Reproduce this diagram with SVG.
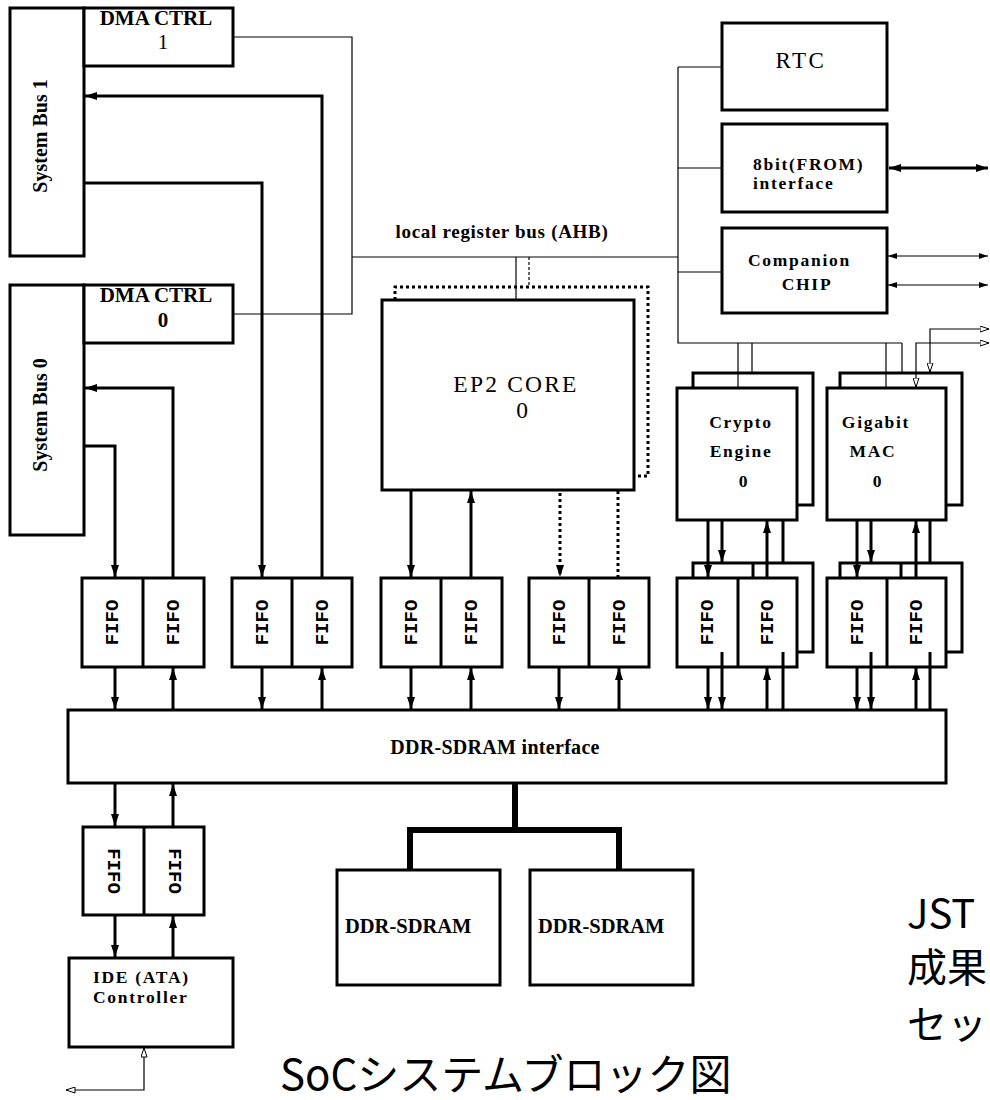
<svg xmlns="http://www.w3.org/2000/svg" width="990" height="1100" viewBox="0 0 990 1100">
<style>
.box{fill:#fff;stroke:#000;stroke-width:3}
.thin{fill:none;stroke:#000;stroke-width:1.2}
.thick{fill:none;stroke:#000;stroke-width:3}
.bus{fill:none;stroke:#000;stroke-width:6}
.dot{fill:none;stroke:#000;stroke-width:3;stroke-dasharray:3 3}
.dash{fill:none;stroke:#000;stroke-width:1.2;stroke-dasharray:3 2}
.arr{marker-end:url(#ah)}
.b{font-family:"Liberation Serif",serif;font-weight:bold;fill:#000}
.r{font-family:"Liberation Serif",serif;fill:#000}
.s{font-size:17.5px;letter-spacing:1.7px}
.m{font-size:20.5px}
.fifo{font-family:"Liberation Mono",monospace;font-weight:bold;font-size:19px;text-anchor:middle}
.jp{font-family:"Noto Sans CJK JP",sans-serif;font-size:40px;fill:#000}
</style>
<defs>
<marker id="ah" viewBox="0 0 12 8" markerWidth="12" markerHeight="8" refX="12" refY="4" orient="auto" markerUnits="userSpaceOnUse"><path d="M0,0 L12,4 L0,8 z" fill="#000"/></marker>
<marker id="as" viewBox="0 0 9 6" markerWidth="9" markerHeight="6" refX="9" refY="3" orient="auto-start-reverse" markerUnits="userSpaceOnUse"><path d="M0,0 L9,3 L0,6 z" fill="#000"/></marker>
<marker id="ab" viewBox="0 0 12 8" markerWidth="12" markerHeight="8" refX="12" refY="4" orient="auto-start-reverse" markerUnits="userSpaceOnUse"><path d="M0,0 L12,4 L0,8 z" fill="#000"/></marker>
<marker id="ao" viewBox="0 0 10 7" markerWidth="10" markerHeight="7" refX="9.5" refY="3.5" orient="auto-start-reverse" markerUnits="userSpaceOnUse"><path d="M0.5,0.5 L9.5,3.5 L0.5,6.5 z" fill="#fff" stroke="#000" stroke-width="1"/></marker>
</defs>

<g id="sysbus1"><rect class="box" x="10" y="8" width="74" height="248"/><text class="b" style="font-size:20px" text-anchor="middle" transform="translate(47,136) rotate(-90)">System Bus 1</text></g>
<g id="dma1"><rect class="box" x="84" y="8" width="149" height="58"/><text class="b" style="font-size:21px" x="156" y="25" text-anchor="middle">DMA CTRL</text><text class="r" style="font-size:21px" x="163" y="49" text-anchor="middle">1</text></g>
<g id="sysbus0"><rect class="box" x="10" y="285" width="74" height="250"/><text class="b" style="font-size:20px" text-anchor="middle" transform="translate(47,415) rotate(-90)">System Bus 0</text></g>
<g id="dma0"><rect class="box" x="84" y="285" width="149" height="58"/><text class="b" style="font-size:21px" x="156" y="302" text-anchor="middle">DMA CTRL</text><text class="b" style="font-size:21px" x="163" y="327" text-anchor="middle">0</text></g>

<g id="rtc"><rect class="box" x="722" y="23" width="165" height="87"/><text class="r" style="font-size:23px;letter-spacing:2.5px" x="801" y="68" text-anchor="middle">RTC</text></g>
<g id="from8bit"><rect class="box" x="722" y="124" width="165" height="88"/><text class="b s" x="753" y="170">8bit(FROM)</text><text class="b s" x="753" y="189">interface</text></g>
<g id="companion"><rect class="box" x="722" y="228" width="165" height="85"/><text class="b s" x="748" y="266">Companion</text><text class="b s" x="807" y="290" text-anchor="middle">CHIP</text></g>

<g id="ep2core"><rect class="box" x="382" y="300" width="252" height="190"/><text class="r" style="font-size:23.5px;letter-spacing:2.2px" x="516" y="392" text-anchor="middle">EP2 CORE</text><text class="r" style="font-size:23.5px" x="522" y="418" text-anchor="middle">0</text></g>

<g id="crypto"><rect class="box" x="693" y="373" width="120" height="132"/><rect class="box" x="677" y="388" width="120" height="132"/><text class="b s" x="741" y="428" text-anchor="middle">Crypto</text><text class="b s" x="741" y="457" text-anchor="middle">Engine</text><text class="b s" x="744" y="487" text-anchor="middle">0</text></g>
<g id="gmac"><rect class="box" x="840" y="373" width="122" height="132"/><rect class="box" x="827" y="388" width="119" height="132"/><text class="b s" x="876" y="428" text-anchor="middle">Gigabit</text><text class="b s" x="873" y="457" text-anchor="middle">MAC</text><text class="b s" x="878" y="487" text-anchor="middle">0</text></g>

<g id="fifo1"><rect class="box" x="82" y="578" width="122" height="89"/><line class="thick" x1="143" y1="578" x2="143" y2="667"/><text class="fifo" transform="translate(118,622.5) rotate(-90)">FIFO</text><text class="fifo" transform="translate(179,622.5) rotate(-90)">FIFO</text></g>
<g id="fifo2"><rect class="box" x="232" y="578" width="120" height="89"/><line class="thick" x1="292" y1="578" x2="292" y2="667"/><text class="fifo" transform="translate(267.5,622.5) rotate(-90)">FIFO</text><text class="fifo" transform="translate(327.5,622.5) rotate(-90)">FIFO</text></g>
<g id="fifo3"><rect class="box" x="381" y="578" width="121" height="89"/><line class="thick" x1="441" y1="578" x2="441" y2="667"/><text class="fifo" transform="translate(416.5,622.5) rotate(-90)">FIFO</text><text class="fifo" transform="translate(477,622.5) rotate(-90)">FIFO</text></g>
<g id="fifo4"><rect class="box" x="529" y="578" width="120" height="89"/><line class="thick" x1="589" y1="578" x2="589" y2="667"/><text class="fifo" transform="translate(564.5,622.5) rotate(-90)">FIFO</text><text class="fifo" transform="translate(624.5,622.5) rotate(-90)">FIFO</text></g>
<g id="fifo5"><rect class="box" x="693" y="563" width="120" height="89"/><line class="thick" x1="753" y1="563" x2="753" y2="652"/><rect class="box" x="677" y="578" width="120" height="89"/><line class="thick" x1="738" y1="578" x2="738" y2="667"/><text class="fifo" transform="translate(713,622.5) rotate(-90)">FIFO</text><text class="fifo" transform="translate(773,622.5) rotate(-90)">FIFO</text></g>
<g id="fifo6"><rect class="box" x="840" y="563" width="122" height="89"/><line class="thick" x1="901" y1="563" x2="901" y2="652"/><rect class="box" x="827" y="578" width="119" height="89"/><line class="thick" x1="887" y1="578" x2="887" y2="667"/><text class="fifo" transform="translate(862.5,622.5) rotate(-90)">FIFO</text><text class="fifo" transform="translate(922,622.5) rotate(-90)">FIFO</text></g>

<g id="ddrif"><rect class="box" x="68" y="710" width="878" height="73"/><text class="b" style="font-size:20px;letter-spacing:0.3px" x="495" y="754" text-anchor="middle">DDR-SDRAM interface</text></g>

<g id="fifo7"><rect class="box" x="83" y="827" width="121" height="88"/><line class="thick" x1="144" y1="827" x2="144" y2="915"/><text class="fifo" transform="translate(108,871) rotate(90)">FIFO</text><text class="fifo" transform="translate(168.5,871) rotate(90)">FIFO</text></g>
<g id="ide"><rect class="box" x="69" y="958" width="164" height="89"/><text class="b s" x="93" y="983">IDE (ATA)</text><text class="b s" x="93" y="1003">Controller</text></g>
<g id="ddr0"><rect class="box" x="337" y="870" width="163" height="115"/><text class="b m" x="345" y="933">DDR-SDRAM</text></g>
<g id="ddr1"><rect class="box" x="530" y="870" width="163" height="115"/><text class="b m" x="538" y="933">DDR-SDRAM</text></g>

<g id="connectors">
<path class="thin" d="M233,37 H352 V314 H233"/>
<path class="thin" d="M352,257 H678"/>
<path class="thin" d="M678,67 V343 H902 M678,67 H722 M678,168 H722 M678,272 H722"/>
<path class="thin" d="M738,343 V388 M752,343 V373 M886,343 V388 M902,343 V373"/>
<path class="thin" d="M516,257 V300"/>
<path class="dash" d="M529,257 V287"/>
<path class="thin" d="M888,256 H988" marker-start="url(#as)" marker-end="url(#as)"/>
<path class="thin" d="M888,285 H988" marker-start="url(#as)" marker-end="url(#as)"/>
<path class="thick" d="M889,168 H988" marker-start="url(#ab)" marker-end="url(#ab)"/>
<path class="thin" d="M989,329 H930 V372" marker-start="url(#ao)" marker-end="url(#ao)"/>
<path class="thin" d="M989,343 H916 V387" marker-start="url(#ao)" marker-end="url(#ao)"/>
<path class="thin" d="M144,1048 V1090 H66" marker-start="url(#ao)" marker-end="url(#ao)"/>

<path class="thick arr" d="M322,578 V96 H85"/>
<path class="thick arr" d="M84,183 H262 V577"/>
<path class="thick arr" d="M173,578 V388 H85"/>
<path class="thick arr" d="M84,446 H115 V577"/>
<path class="thick arr" d="M411,490 V577"/>
<path class="thick arr" d="M471,578 V491"/>
<path class="dot arr" d="M560,493 V577"/>
<path class="dot" d="M618,578 V491"/>
<path class="dot" d="M395,300 V287 H648 V476 H634"/>

<path class="thick arr" d="M708,520 V577"/>
<path class="thick arr" d="M722,520 V562"/>
<path class="thick arr" d="M767,578 V521"/>
<path class="thick" d="M783,520 V563"/>
<path class="thick arr" d="M857,520 V577"/>
<path class="thick arr" d="M871,520 V562"/>
<path class="thick arr" d="M916,578 V521"/>
<path class="thick" d="M930,520 V563"/>

<path class="thick arr" d="M115,667 V709"/>
<path class="thick arr" d="M173,710 V668"/>
<path class="thick arr" d="M262,667 V709"/>
<path class="thick arr" d="M322,710 V668"/>
<path class="thick arr" d="M411,667 V709"/>
<path class="thick arr" d="M471,710 V668"/>
<path class="thick arr" d="M559,667 V709"/>
<path class="thick arr" d="M619,710 V668"/>
<path class="thick arr" d="M708,667 V709"/>
<path class="thick arr" d="M722,652 V709"/>
<path class="thick arr" d="M767,710 V668"/>
<path class="thick" d="M783,652 V710"/>
<path class="thick arr" d="M857,667 V709"/>
<path class="thick arr" d="M871,652 V709"/>
<path class="thick arr" d="M916,710 V668"/>
<path class="thick" d="M930,652 V710"/>

<path class="thick arr" d="M115,783 V826"/>
<path class="thick arr" d="M173,827 V784"/>
<path class="thick arr" d="M115,915 V957"/>
<path class="thick arr" d="M173,958 V916"/>

<path class="bus" d="M410,870 V830 H619 V870 M515,830 V783"/>
</g>

<text class="b" style="font-size:19px;letter-spacing:0.7px" x="502" y="238" text-anchor="middle">local register bus (AHB)</text>
<text class="jp" x="907" y="928">JST</text>
<text class="jp" x="907" y="982">成果</text>
<text class="jp" x="907" y="1039">セッ</text>
<text class="jp" style="font-size:42px" x="280" y="1090">SoCシステムブロック図</text>
</svg>
